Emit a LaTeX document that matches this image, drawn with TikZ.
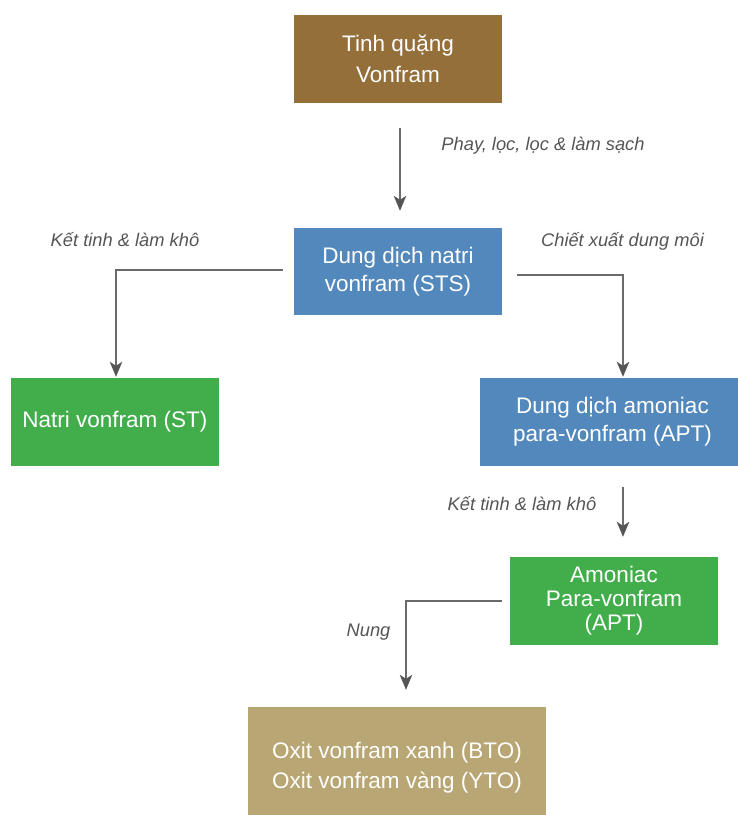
\documentclass[tikz,border=0pt]{standalone}
\usepackage{fontspec}
\setmainfont{Liberation Sans}
\usetikzlibrary{arrows.meta,calc}
\definecolor{cbrown}{HTML}{946F3A}
\definecolor{cblue}{HTML}{5388BC}
\definecolor{cgreen}{HTML}{42AD4B}
\definecolor{ctan}{HTML}{B8A774}
\definecolor{cline}{HTML}{6A6A6A}
\definecolor{ctip}{HTML}{555555}
\definecolor{clabel}{HTML}{555555}
\begin{document}
\begin{tikzpicture}[x=1pt,y=-1pt,
  box/.style={rectangle, inner sep=0pt, text=white, align=center,
    font=\fontsize{22.5}{28}\selectfont},
  lbl/.style={anchor=base, text=clabel, inner sep=0pt,
    font=\fontsize{18.3}{21}\selectfont\itshape},
  conn/.style={draw=cline, line width=1.4pt,
    -{Stealth[length=15pt,width=12.5pt,inset=4pt,color=ctip]}}]
\useasboundingbox (0,0) rectangle (738,815);
\clip (0,0) rectangle (738,815);
% boxes
\node[box, fill=cbrown, minimum width=208pt, minimum height=88pt,
  font=\fontsize{22.5}{31}\selectfont] (n1) at (398,59) {Tinh quặng\\Vonfram};
\node[box, fill=cblue, minimum width=208pt, minimum height=87pt] (n2) at (398,271.5) {Dung dịch natri\\vonfram (STS)};
\node[box, fill=cgreen, minimum width=208pt, minimum height=88pt] (st) at (115,422) {Natri vonfram (ST)};
\node[box, fill=cblue, minimum width=265pt, minimum height=88pt] (apt) at (612.5,422) {Dung dịch amoniac\\para-vonfram (APT)};
\node[box, fill=cgreen, minimum width=208pt, minimum height=88pt,
  font=\fontsize{22.5}{24}\selectfont] (am) at (614,601) {Amoniac\\Para-vonfram\\(APT)};
\node[box, fill=ctan, minimum width=298pt, minimum height=122pt,
  font=\fontsize{22.5}{30}\selectfont] (ox) at (397,768) {Oxit vonfram xanh (BTO)\\Oxit vonfram vàng (YTO)};
% connector ends
\coordinate (a1s) at ($(n1.south)+(2,25)$);
\coordinate (a1e) at ($(n2.north)+(2,-17)$);
\coordinate (c2s) at ($(n2.west)+(-11,-1.5)$);
\coordinate (c2e) at ($(st.north)+(1,-1)$);
\coordinate (c3s) at ($(n2.east)+(15,3.5)$);
\coordinate (c3e) at ($(apt.north)+(10.5,-1)$);
\coordinate (a4s) at ($(apt.south)+(10.5,21)$);
\coordinate (a4e) at ($(am.north)+(9,-20)$);
\coordinate (c5s) at ($(am.west)+(-8,0)$);
\coordinate (c5e) at ($(ox.north)+(9,-17)$);
% connectors
\draw[conn] (a1s) -- (a1e);
\draw[conn] (c2s) -| (c2e);
\draw[conn] (c3s) -| (c3e);
\draw[conn] (a4s) -- (a4e);
\draw[conn] (c5s) -| (c5e);
% labels
\node[lbl] (l1) at (543,150) {Phay, lọc, lọc \& làm sạch};
\node[lbl] (l2) at (125,246) {Kết tinh \& làm khô};
\node[lbl] (l3) at (622.5,246) {Chiết xuất dung môi};
\node[lbl] (l4) at (522,510.5) {Kết tinh \& làm khô};
\node[lbl] (l5) at (368.5,636.5) {Nung};
\end{tikzpicture}
\end{document}
